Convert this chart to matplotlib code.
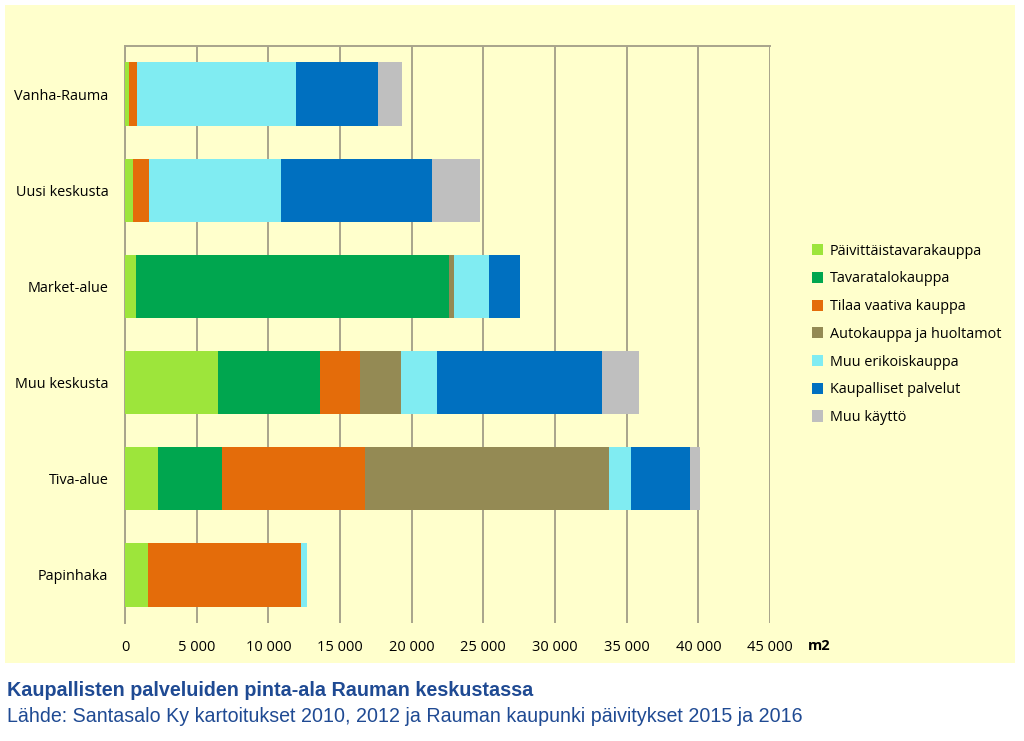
import matplotlib
matplotlib.use("Agg")
import matplotlib.pyplot as plt
from matplotlib.patches import Rectangle
import numpy as np
from matplotlib import font_manager

categories = ["Vanha-Rauma", "Uusi keskusta", "Market-alue", "Muu keskusta", "Tiva-alue", "Papinhaka"]
series_names = ["Päivittäistavarakauppa", "Tavaratalokauppa", "Tilaa vaativa kauppa",
                "Autokauppa ja huoltamot", "Muu erikoiskauppa", "Kaupalliset palvelut", "Muu käyttö"]
paivittais = [300, 535, 790, 6470, 2270, 1580]
tavaratalo = [0, 0, 21790, 7140, 4505, 0]
tilaa_vaativa = [560, 1115, 0, 2790, 9975, 10700]
autokauppa = [0, 0, 350, 2860, 17010, 0]
muu_erikois = [11050, 9235, 2465, 2500, 1575, 395]
kaupalliset = [5770, 10535, 2185, 11520, 4055, 0]
muu_kaytto = [1675, 3370, 0, 2575, 700, 0]
xticks = [0, 5000, 10000, 15000, 20000, 25000, 30000, 35000, 40000, 45000]
xtick_labels = ["0", "5 000", "10 000", "15 000", "20 000", "25 000", "30 000", "35 000", "40 000", "45 000"]

colors = ["#9DE53B", "#00A64F", "#E46C0A", "#948A54", "#80ECF2", "#0070C0", "#BFBFBF"]
series = [paivittais, tavaratalo, tilaa_vaativa, autokauppa, muu_erikois, kaupalliset, muu_kaytto]

names = {f.name for f in font_manager.fontManager.ttflist}
narrow = "Liberation Sans Narrow" if "Liberation Sans Narrow" in names else "Liberation Sans"
plt.rcParams['font.family'] = ['Open Sans', 'DejaVu Sans']

W, H = 1024, 741
fig = plt.figure(figsize=(W / 100, H / 100), dpi=100)
fig.patch.set_facecolor("white")
bg = Rectangle((5 / W, 1 - 663 / H), 1010 / W, 658 / H, transform=fig.transFigure,
               facecolor="#FFFFCC", edgecolor="none", zorder=-10)
fig.patches.append(bg)

ax = fig.add_axes([125 / W, 1 - 623 / H, 645 / W, 577 / H])
ax.set_zorder(1)
ax.set_facecolor("none")
y = np.arange(len(categories))
left = np.zeros(len(categories))
for vals, c, name in zip(series, colors, series_names):
    ax.barh(y, vals, left=left, height=0.66, color=c, label=name, zorder=3)
    left += np.array(vals)

ax.set_xlim(0, 45000)
ax.set_ylim(len(categories) - 0.5, -0.5)
ax.set_xticks(xticks)
ax.set_xticklabels(xtick_labels, fontsize=10.5)
ax.set_yticks(y)
ax.set_yticklabels(categories, fontsize=10.4)
ax.tick_params(axis="x", length=0, pad=12)
ax.tick_params(axis="y", length=0, pad=12)
ax.grid(axis="x", color="#A8A48C", linewidth=1.4, zorder=1)
for s in ["right", "bottom"]:
    ax.spines[s].set_visible(False)
for s in ["top", "left"]:
    ax.spines[s].set_color("#A8A48C")
    ax.spines[s].set_linewidth(1.4)

fig.text(808 / W, 1 - 646 / H, "m2", fontsize=10.5, fontweight="bold", ha="left", va="center")

handles, labels = ax.get_legend_handles_labels()
leg = fig.legend(handles, labels, loc="upper left", bbox_to_anchor=(806 / W, 1 - 238 / H),
                 frameon=False, fontsize=10.4, handlelength=0.8, handleheight=0.8,
                 handletextpad=0.45, labelspacing=0.88, borderaxespad=0)

fig.text(7 / W, 1 - 691 / H, "Kaupallisten palveluiden pinta-ala Rauman keskustassa",
         fontsize=14.2, fontweight="bold", color="#1F4A93", family=narrow, ha="left", va="center")
fig.text(7 / W, 1 - 717 / H, "Lähde: Santasalo Ky kartoitukset 2010, 2012 ja Rauman kaupunki päivitykset 2015 ja 2016",
         fontsize=14.1, color="#1F4A93", family=narrow, ha="left", va="center")

fig.savefig("out.png", dpi=100)
